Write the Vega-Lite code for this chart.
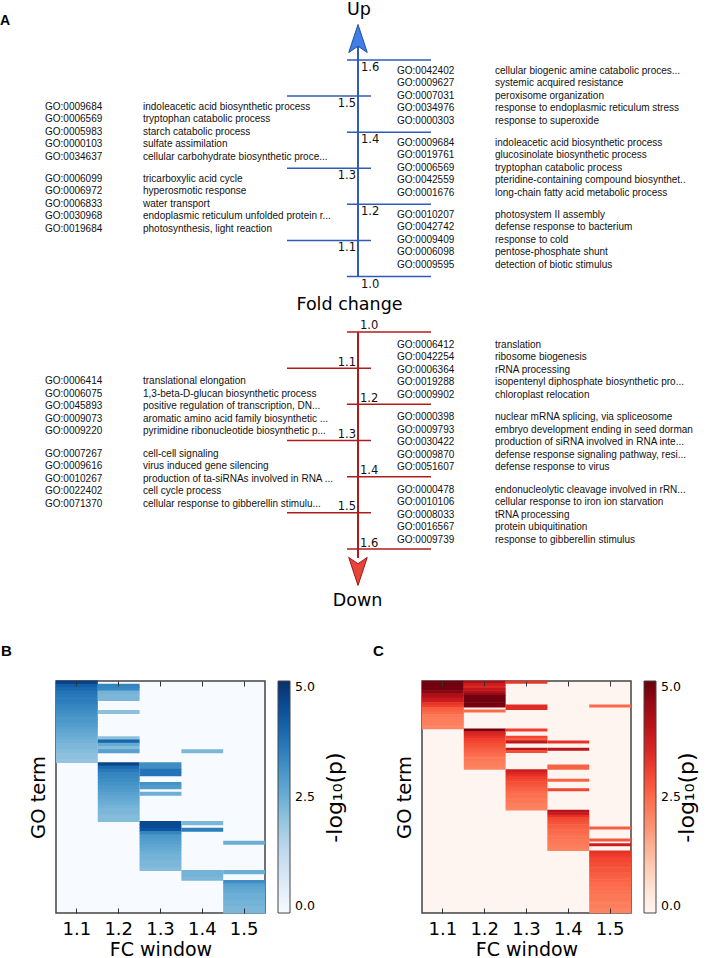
{
"$schema":"https://vega.github.io/schema/vega-lite/v6.json",
"padding":0,
"background":"white",
"spacing":0,
"columns":1,
"align":"none",
"config":{"view":{"stroke":null},"font":"DejaVu Sans"},
"datasets":{
"ticks":[{"fc":1.0,"side":"right"},{"fc":1.1,"side":"left"},{"fc":1.2,"side":"right"},{"fc":1.3,"side":"left"},{"fc":1.4,"side":"right"},{"fc":1.5,"side":"left"},{"fc":1.6,"side":"right"}],
"goUp":[
{"side":"right","lo":1.4,"hi":1.6,"rank":1,"go":"GO:0042402","name":"cellular biogenic amine catabolic proces..."},
{"side":"right","lo":1.4,"hi":1.6,"rank":2,"go":"GO:0009627","name":"systemic acquired resistance"},
{"side":"right","lo":1.4,"hi":1.6,"rank":3,"go":"GO:0007031","name":"peroxisome organization"},
{"side":"right","lo":1.4,"hi":1.6,"rank":4,"go":"GO:0034976","name":"response to endoplasmic reticulum stress"},
{"side":"right","lo":1.4,"hi":1.6,"rank":5,"go":"GO:0000303","name":"response to superoxide"},
{"side":"right","lo":1.2,"hi":1.4,"rank":1,"go":"GO:0009684","name":"indoleacetic acid biosynthetic process"},
{"side":"right","lo":1.2,"hi":1.4,"rank":2,"go":"GO:0019761","name":"glucosinolate biosynthetic process"},
{"side":"right","lo":1.2,"hi":1.4,"rank":3,"go":"GO:0006569","name":"tryptophan catabolic process"},
{"side":"right","lo":1.2,"hi":1.4,"rank":4,"go":"GO:0042559","name":"pteridine-containing compound biosynthet.."},
{"side":"right","lo":1.2,"hi":1.4,"rank":5,"go":"GO:0001676","name":"long-chain fatty acid metabolic process"},
{"side":"right","lo":1.0,"hi":1.2,"rank":1,"go":"GO:0010207","name":"photosystem II assembly"},
{"side":"right","lo":1.0,"hi":1.2,"rank":2,"go":"GO:0042742","name":"defense response to bacterium"},
{"side":"right","lo":1.0,"hi":1.2,"rank":3,"go":"GO:0009409","name":"response to cold"},
{"side":"right","lo":1.0,"hi":1.2,"rank":4,"go":"GO:0006098","name":"pentose-phosphate shunt"},
{"side":"right","lo":1.0,"hi":1.2,"rank":5,"go":"GO:0009595","name":"detection of biotic stimulus"},
{"side":"left","lo":1.3,"hi":1.5,"rank":1,"go":"GO:0009684","name":"indoleacetic acid biosynthetic process"},
{"side":"left","lo":1.3,"hi":1.5,"rank":2,"go":"GO:0006569","name":"tryptophan catabolic process"},
{"side":"left","lo":1.3,"hi":1.5,"rank":3,"go":"GO:0005983","name":"starch catabolic process"},
{"side":"left","lo":1.3,"hi":1.5,"rank":4,"go":"GO:0000103","name":"sulfate assimilation"},
{"side":"left","lo":1.3,"hi":1.5,"rank":5,"go":"GO:0034637","name":"cellular carbohydrate biosynthetic proce..."},
{"side":"left","lo":1.1,"hi":1.3,"rank":1,"go":"GO:0006099","name":"tricarboxylic acid cycle"},
{"side":"left","lo":1.1,"hi":1.3,"rank":2,"go":"GO:0006972","name":"hyperosmotic response"},
{"side":"left","lo":1.1,"hi":1.3,"rank":3,"go":"GO:0006833","name":"water transport"},
{"side":"left","lo":1.1,"hi":1.3,"rank":4,"go":"GO:0030968","name":"endoplasmic reticulum unfolded protein r..."},
{"side":"left","lo":1.1,"hi":1.3,"rank":5,"go":"GO:0019684","name":"photosynthesis, light reaction"}
],
"goDown":[
{"side":"right","lo":1.0,"hi":1.2,"rank":1,"go":"GO:0006412","name":"translation"},
{"side":"right","lo":1.0,"hi":1.2,"rank":2,"go":"GO:0042254","name":"ribosome biogenesis"},
{"side":"right","lo":1.0,"hi":1.2,"rank":3,"go":"GO:0006364","name":"rRNA processing"},
{"side":"right","lo":1.0,"hi":1.2,"rank":4,"go":"GO:0019288","name":"isopentenyl diphosphate biosynthetic pro..."},
{"side":"right","lo":1.0,"hi":1.2,"rank":5,"go":"GO:0009902","name":"chloroplast relocation"},
{"side":"right","lo":1.2,"hi":1.4,"rank":1,"go":"GO:0000398","name":"nuclear mRNA splicing, via spliceosome"},
{"side":"right","lo":1.2,"hi":1.4,"rank":2,"go":"GO:0009793","name":"embryo development ending in seed dorman"},
{"side":"right","lo":1.2,"hi":1.4,"rank":3,"go":"GO:0030422","name":"production of siRNA involved in RNA inte..."},
{"side":"right","lo":1.2,"hi":1.4,"rank":4,"go":"GO:0009870","name":"defense response signaling pathway, resi..."},
{"side":"right","lo":1.2,"hi":1.4,"rank":5,"go":"GO:0051607","name":"defense response to virus"},
{"side":"right","lo":1.4,"hi":1.6,"rank":1,"go":"GO:0000478","name":"endonucleolytic cleavage involved in rRN..."},
{"side":"right","lo":1.4,"hi":1.6,"rank":2,"go":"GO:0010106","name":"cellular response to iron ion starvation"},
{"side":"right","lo":1.4,"hi":1.6,"rank":3,"go":"GO:0008033","name":"tRNA processing"},
{"side":"right","lo":1.4,"hi":1.6,"rank":4,"go":"GO:0016567","name":"protein ubiquitination"},
{"side":"right","lo":1.4,"hi":1.6,"rank":5,"go":"GO:0009739","name":"response to gibberellin stimulus"},
{"side":"left","lo":1.1,"hi":1.3,"rank":1,"go":"GO:0006414","name":"translational elongation"},
{"side":"left","lo":1.1,"hi":1.3,"rank":2,"go":"GO:0006075","name":"1,3-beta-D-glucan biosynthetic process"},
{"side":"left","lo":1.1,"hi":1.3,"rank":3,"go":"GO:0045893","name":"positive regulation of transcription, DN..."},
{"side":"left","lo":1.1,"hi":1.3,"rank":4,"go":"GO:0009073","name":"aromatic amino acid family biosynthetic ..."},
{"side":"left","lo":1.1,"hi":1.3,"rank":5,"go":"GO:0009220","name":"pyrimidine ribonucleotide biosynthetic p..."},
{"side":"left","lo":1.3,"hi":1.5,"rank":1,"go":"GO:0007267","name":"cell-cell signaling"},
{"side":"left","lo":1.3,"hi":1.5,"rank":2,"go":"GO:0009616","name":"virus induced gene silencing"},
{"side":"left","lo":1.3,"hi":1.5,"rank":3,"go":"GO:0010267","name":"production of ta-siRNAs involved in RNA ..."},
{"side":"left","lo":1.3,"hi":1.5,"rank":4,"go":"GO:0022402","name":"cell cycle process"},
{"side":"left","lo":1.3,"hi":1.5,"rank":5,"go":"GO:0071370","name":"cellular response to gibberellin stimulu..."}
],
"hmUp":[
{"r":0,"w":"1.1","v":4.7},{"r":1,"w":"1.1","v":4.1},{"r":2,"w":"1.1","v":3.9},{"r":3,"w":"1.1","v":3.7},{"r":4,"w":"1.1","v":3.6},{"r":5,"w":"1.1","v":3.5},{"r":6,"w":"1.1","v":3.5},{"r":7,"w":"1.1","v":3.4},{"r":8,"w":"1.1","v":3.3},{"r":9,"w":"1.1","v":3.2},{"r":10,"w":"1.1","v":3.1},{"r":11,"w":"1.1","v":3.0},{"r":12,"w":"1.1","v":3.0},{"r":13,"w":"1.1","v":2.9},{"r":14,"w":"1.1","v":2.8},{"r":15,"w":"1.1","v":2.7},{"r":16,"w":"1.1","v":2.6},{"r":17,"w":"1.1","v":2.5},{"r":18,"w":"1.1","v":2.4},{"r":19,"w":"1.1","v":2.3},{"r":20,"w":"1.1","v":2.3},{"r":21,"w":"1.1","v":2.2},{"r":22,"w":"1.1","v":2.1},{"r":23,"w":"1.1","v":2.1},{"r":24,"w":"1.1","v":2.0},
{"r":1,"w":"1.2","v":3.4},{"r":2,"w":"1.2","v":3.3},{"r":3,"w":"1.2","v":2.4},{"r":4,"w":"1.2","v":2.3},{"r":5,"w":"1.2","v":2.3},{"r":9,"w":"1.2","v":2.1},{"r":17,"w":"1.2","v":2.1},{"r":18,"w":"1.2","v":4.0},{"r":19,"w":"1.2","v":2.6},{"r":20,"w":"1.2","v":2.2},{"r":21,"w":"1.2","v":2.8},
{"r":21,"w":"1.4","v":2.3},
{"r":25,"w":"1.2","v":4.6},{"r":26,"w":"1.2","v":3.9},{"r":27,"w":"1.2","v":3.6},{"r":28,"w":"1.2","v":3.4},{"r":29,"w":"1.2","v":3.3},{"r":30,"w":"1.2","v":3.2},{"r":31,"w":"1.2","v":3.1},{"r":32,"w":"1.2","v":3.0},{"r":33,"w":"1.2","v":2.9},{"r":34,"w":"1.2","v":2.8},{"r":35,"w":"1.2","v":2.7},{"r":36,"w":"1.2","v":2.6},{"r":37,"w":"1.2","v":2.5},{"r":38,"w":"1.2","v":2.4},{"r":39,"w":"1.2","v":2.3},{"r":40,"w":"1.2","v":2.3},{"r":41,"w":"1.2","v":2.2},{"r":42,"w":"1.2","v":2.2},
{"r":25,"w":"1.3","v":3.2},{"r":26,"w":"1.3","v":3.2},{"r":27,"w":"1.3","v":3.7},{"r":28,"w":"1.3","v":3.7},{"r":31,"w":"1.3","v":3.1},{"r":32,"w":"1.3","v":2.9},{"r":34,"w":"1.3","v":2.5},
{"r":43,"w":"1.3","v":4.5},{"r":44,"w":"1.3","v":4.5},{"r":45,"w":"1.3","v":4.3},{"r":46,"w":"1.3","v":3.4},{"r":47,"w":"1.3","v":3.0},{"r":48,"w":"1.3","v":2.9},{"r":49,"w":"1.3","v":2.8},{"r":50,"w":"1.3","v":2.7},{"r":51,"w":"1.3","v":2.6},{"r":52,"w":"1.3","v":2.5},{"r":53,"w":"1.3","v":2.4},{"r":54,"w":"1.3","v":2.4},{"r":55,"w":"1.3","v":2.3},{"r":56,"w":"1.3","v":2.3},{"r":57,"w":"1.3","v":2.2},
{"r":43,"w":"1.4","v":2.3},{"r":45,"w":"1.4","v":3.5},{"r":49,"w":"1.5","v":2.5},
{"r":58,"w":"1.4","v":2.4},{"r":59,"w":"1.4","v":2.4},{"r":60,"w":"1.4","v":2.3},
{"r":58,"w":"1.5","v":2.5},
{"r":61,"w":"1.5","v":3.2},{"r":62,"w":"1.5","v":2.8},{"r":63,"w":"1.5","v":2.7},{"r":64,"w":"1.5","v":2.6},{"r":65,"w":"1.5","v":2.5},{"r":66,"w":"1.5","v":2.5},{"r":67,"w":"1.5","v":2.4},{"r":68,"w":"1.5","v":2.4},{"r":69,"w":"1.5","v":2.3},{"r":70,"w":"1.5","v":2.3}
],
"hmDown":[
{"r":0,"w":"1.1","v":4.9},{"r":1,"w":"1.1","v":4.9},{"r":2,"w":"1.1","v":4.9},{"r":3,"w":"1.1","v":4.9},{"r":4,"w":"1.1","v":4.7},{"r":5,"w":"1.1","v":4.3},{"r":6,"w":"1.1","v":4.2},{"r":7,"w":"1.1","v":3.8},{"r":8,"w":"1.1","v":3.7},{"r":9,"w":"1.1","v":3.3},{"r":10,"w":"1.1","v":3.1},{"r":11,"w":"1.1","v":2.7},{"r":12,"w":"1.1","v":2.6},{"r":13,"w":"1.1","v":2.5},{"r":14,"w":"1.1","v":2.3},{"r":15,"w":"1.1","v":2.25},{"r":16,"w":"1.1","v":2.2},{"r":17,"w":"1.1","v":2.2},{"r":18,"w":"1.1","v":2.15},{"r":19,"w":"1.1","v":2.1},
{"r":0,"w":"1.2","v":4.2},{"r":1,"w":"1.2","v":3.7},{"r":2,"w":"1.2","v":3.5},{"r":3,"w":"1.2","v":3.9},{"r":4,"w":"1.2","v":4.1},{"r":5,"w":"1.2","v":4.5},{"r":6,"w":"1.2","v":4.9},{"r":7,"w":"1.2","v":4.9},{"r":8,"w":"1.2","v":4.9},{"r":9,"w":"1.2","v":4.9},{"r":10,"w":"1.2","v":4.8},{"r":12,"w":"1.2","v":2.5},
{"r":0,"w":"1.3","v":3.2},{"r":10,"w":"1.3","v":3.4},{"r":11,"w":"1.3","v":3.4},{"r":10,"w":"1.5","v":2.5},
{"r":20,"w":"1.2","v":4.9},{"r":21,"w":"1.2","v":3.6},{"r":22,"w":"1.2","v":3.5},{"r":23,"w":"1.2","v":3.3},{"r":24,"w":"1.2","v":3.1},{"r":25,"w":"1.2","v":3.0},{"r":26,"w":"1.2","v":2.9},{"r":27,"w":"1.2","v":2.8},{"r":28,"w":"1.2","v":2.7},{"r":29,"w":"1.2","v":2.6},{"r":30,"w":"1.2","v":2.5},{"r":31,"w":"1.2","v":2.4},{"r":32,"w":"1.2","v":2.3},{"r":33,"w":"1.2","v":2.3},{"r":34,"w":"1.2","v":2.2},{"r":35,"w":"1.2","v":2.2},{"r":36,"w":"1.2","v":2.1},
{"r":20,"w":"1.3","v":3.1},{"r":23,"w":"1.3","v":3.0},{"r":24,"w":"1.3","v":2.7},{"r":25,"w":"1.3","v":3.9},{"r":28,"w":"1.3","v":4.0},{"r":29,"w":"1.3","v":2.9},
{"r":25,"w":"1.4","v":3.3},{"r":28,"w":"1.4","v":4.0},{"r":35,"w":"1.4","v":2.6},{"r":36,"w":"1.4","v":2.6},
{"r":37,"w":"1.3","v":3.7},{"r":38,"w":"1.3","v":3.5},{"r":39,"w":"1.3","v":3.3},{"r":40,"w":"1.3","v":3.1},{"r":41,"w":"1.3","v":3.0},{"r":42,"w":"1.3","v":2.9},{"r":43,"w":"1.3","v":2.8},{"r":44,"w":"1.3","v":2.7},{"r":45,"w":"1.3","v":2.6},{"r":46,"w":"1.3","v":2.5},{"r":47,"w":"1.3","v":2.4},{"r":48,"w":"1.3","v":2.4},{"r":49,"w":"1.3","v":2.3},{"r":50,"w":"1.3","v":2.3},{"r":51,"w":"1.3","v":2.2},{"r":52,"w":"1.3","v":2.2},{"r":53,"w":"1.3","v":2.1},
{"r":41,"w":"1.4","v":2.6},{"r":45,"w":"1.4","v":3.0},
{"r":54,"w":"1.4","v":4.1},{"r":55,"w":"1.4","v":3.8},{"r":56,"w":"1.4","v":3.3},{"r":57,"w":"1.4","v":3.0},{"r":58,"w":"1.4","v":2.9},{"r":59,"w":"1.4","v":2.8},{"r":60,"w":"1.4","v":2.7},{"r":61,"w":"1.4","v":2.6},{"r":62,"w":"1.4","v":2.5},{"r":63,"w":"1.4","v":2.5},{"r":64,"w":"1.4","v":2.4},{"r":65,"w":"1.4","v":2.4},{"r":66,"w":"1.4","v":2.3},{"r":67,"w":"1.4","v":2.3},{"r":68,"w":"1.4","v":2.2},{"r":69,"w":"1.4","v":2.2},{"r":70,"w":"1.4","v":2.1},
{"r":61,"w":"1.5","v":2.7},{"r":66,"w":"1.5","v":2.8},{"r":68,"w":"1.5","v":3.7},
{"r":71,"w":"1.5","v":3.3},{"r":72,"w":"1.5","v":3.2},{"r":73,"w":"1.5","v":3.1},{"r":74,"w":"1.5","v":3.0},{"r":75,"w":"1.5","v":3.0},{"r":76,"w":"1.5","v":2.9},{"r":77,"w":"1.5","v":2.9},{"r":78,"w":"1.5","v":2.8},{"r":79,"w":"1.5","v":2.8},{"r":80,"w":"1.5","v":2.7},{"r":81,"w":"1.5","v":2.7},{"r":82,"w":"1.5","v":2.6},{"r":83,"w":"1.5","v":2.6},{"r":84,"w":"1.5","v":2.5},{"r":85,"w":"1.5","v":2.5},{"r":86,"w":"1.5","v":2.4},{"r":87,"w":"1.5","v":2.4},{"r":88,"w":"1.5","v":2.4},{"r":89,"w":"1.5","v":2.3},{"r":90,"w":"1.5","v":2.3},{"r":91,"w":"1.5","v":2.3},{"r":92,"w":"1.5","v":2.2},{"r":93,"w":"1.5","v":2.2},{"r":94,"w":"1.5","v":2.2},{"r":95,"w":"1.5","v":2.1},{"r":96,"w":"1.5","v":2.1}
]
},
"resolve":{"scale":{"x":"independent","y":"independent","color":"independent"}},
"concat":[
{
"width":709,"height":315,
"layer":[
{"data":{"values":[{}]},"mark":{"type":"rule","color":"#2e5cb8","strokeWidth":2,"xOffset":-39},
 "encoding":{"x":{"datum":"right","type":"nominal","scale":{"type":"point","domain":["left","right"],"range":[-11,341],"padding":0},"axis":null},
 "y":{"datum":1.0,"type":"quantitative","scale":{"domain":[0.8933,1.7663],"nice":false,"zero":false},"axis":null},"y2":{"datum":1.64}}},
{"data":{"name":"ticks"},"transform":[{"filter":"datum.side==='right'"}],"mark":{"type":"rule","color":"#2e5cb8","strokeWidth":1.5,"xOffset":-50,"x2Offset":34},
 "encoding":{"x":{"datum":"right","type":"nominal"},"x2":{"datum":"right"},"y":{"field":"fc","type":"quantitative"}}},
{"data":{"name":"ticks"},"transform":[{"filter":"datum.side==='left'"}],"mark":{"type":"rule","color":"#2e5cb8","strokeWidth":1.5,"xOffset":-110,"x2Offset":-26},
 "encoding":{"x":{"datum":"right","type":"nominal"},"x2":{"datum":"right"},"y":{"field":"fc","type":"quantitative"}}},
{"data":{"name":"ticks"},"transform":[{"filter":"datum.side==='right'"}],"mark":{"type":"text","align":"left","baseline":"top","dx":-36,"dy":2,"fontSize":11.5,"font":"DejaVu Sans","color":"#111"},
 "encoding":{"x":{"datum":"right","type":"nominal"},"y":{"field":"fc","type":"quantitative"},"text":{"field":"fc","type":"quantitative","format":".1f"}}},
{"data":{"name":"ticks"},"transform":[{"filter":"datum.side==='left'"}],"mark":{"type":"text","align":"right","baseline":"top","dx":-41,"dy":2,"fontSize":11.5,"font":"DejaVu Sans","color":"#111"},
 "encoding":{"x":{"datum":"right","type":"nominal"},"y":{"field":"fc","type":"quantitative"},"text":{"field":"fc","type":"quantitative","format":".1f"}}},
{"data":{"name":"goUp"},"transform":[{"aggregate":[{"op":"values","as":"vals"}],"groupby":["side","lo","hi"]},{"calculate":"pluck(datum.vals,'go')","as":"gos"},{"calculate":"pluck(datum.vals,'name')","as":"names"}],
 "mark":{"type":"text","align":"left","baseline":"top","dy":5.5,"lineHeight":12.5,"font":"Liberation Sans","fontSize":10,"color":"#111"},
 "encoding":{"x":{"field":"side","type":"nominal"},"y":{"field":"hi","type":"quantitative"},"text":{"field":"gos"}}},
{"data":{"name":"goUp"},"transform":[{"aggregate":[{"op":"values","as":"vals"}],"groupby":["side","lo","hi"]},{"calculate":"pluck(datum.vals,'go')","as":"gos"},{"calculate":"pluck(datum.vals,'name')","as":"names"}],
 "mark":{"type":"text","align":"left","baseline":"top","dy":5.5,"dx":98,"lineHeight":12.5,"font":"Liberation Sans","fontSize":10,"color":"#111"},
 "encoding":{"x":{"field":"side","type":"nominal"},"y":{"field":"hi","type":"quantitative"},"text":{"field":"names"}}},
{"data":{"values":[{}]},"mark":{"type":"point","shape":"M0,-1L0.66,1L0,0.55L-0.66,1Z","size":784,"filled":true,"fill":"#3f7fe6","stroke":"#1f4fa8","strokeWidth":1,"opacity":1,"xOffset":-39},
 "encoding":{"x":{"datum":"right","type":"nominal"},"y":{"datum":1.6596,"type":"quantitative"}}},
{"data":{"values":[{}]},"mark":{"type":"text","text":"Up","align":"center","baseline":"alphabetic","dx":-38,"fontSize":17.5,"font":"DejaVu Sans","color":"#000"},
 "encoding":{"x":{"datum":"right","type":"nominal"},"y":{"datum":1.7248,"type":"quantitative"}}},
{"data":{"values":[{}]},"mark":{"type":"text","text":"A","align":"left","baseline":"alphabetic","dx":-45,"fontSize":14,"fontWeight":"bold","font":"Liberation Sans","color":"#000"},
 "encoding":{"x":{"datum":"left","type":"nominal"},"y":{"datum":1.697,"type":"quantitative"}}},
{"data":{"values":[{}]},"mark":{"type":"text","text":"Fold change","align":"center","baseline":"alphabetic","dx":-47.5,"fontSize":17.5,"font":"DejaVu Sans","color":"#000"},
 "encoding":{"x":{"datum":"right","type":"nominal"},"y":{"datum":0.9072,"type":"quantitative"}}}
]
},
{
"width":709,"height":327,
"layer":[
{"data":{"values":[{}]},"mark":{"type":"rule","color":"#b01c1c","strokeWidth":2,"xOffset":-39},
 "encoding":{"x":{"datum":"right","type":"nominal","scale":{"type":"point","domain":["left","right"],"range":[-11,341],"padding":0},"axis":null},
 "y":{"datum":1.0,"type":"quantitative","scale":{"domain":[0.953,1.8571],"nice":false,"zero":false,"reverse":true},"axis":null},"y2":{"datum":1.625}}},
{"data":{"name":"ticks"},"transform":[{"filter":"datum.side==='right'"}],"mark":{"type":"rule","color":"#b01c1c","strokeWidth":1.5,"xOffset":-50,"x2Offset":34},
 "encoding":{"x":{"datum":"right","type":"nominal"},"x2":{"datum":"right"},"y":{"field":"fc","type":"quantitative"}}},
{"data":{"name":"ticks"},"transform":[{"filter":"datum.side==='left'"}],"mark":{"type":"rule","color":"#b01c1c","strokeWidth":1.5,"xOffset":-110,"x2Offset":-26},
 "encoding":{"x":{"datum":"right","type":"nominal"},"x2":{"datum":"right"},"y":{"field":"fc","type":"quantitative"}}},
{"data":{"name":"ticks"},"transform":[{"filter":"datum.side==='right'"}],"mark":{"type":"text","align":"left","baseline":"alphabetic","dx":-37,"dy":-2.5,"fontSize":11.5,"font":"DejaVu Sans","color":"#111"},
 "encoding":{"x":{"datum":"right","type":"nominal"},"y":{"field":"fc","type":"quantitative"},"text":{"field":"fc","type":"quantitative","format":".1f"}}},
{"data":{"name":"ticks"},"transform":[{"filter":"datum.side==='left'"}],"mark":{"type":"text","align":"right","baseline":"alphabetic","dx":-41,"dy":-2.5,"fontSize":11.5,"font":"DejaVu Sans","color":"#111"},
 "encoding":{"x":{"datum":"right","type":"nominal"},"y":{"field":"fc","type":"quantitative"},"text":{"field":"fc","type":"quantitative","format":".1f"}}},
{"data":{"name":"goDown"},"transform":[{"aggregate":[{"op":"values","as":"vals"}],"groupby":["side","lo","hi"]},{"calculate":"pluck(datum.vals,'go')","as":"gos"},{"calculate":"pluck(datum.vals,'name')","as":"names"}],
 "mark":{"type":"text","align":"left","baseline":"top","dy":8,"lineHeight":12.5,"font":"Liberation Sans","fontSize":10,"color":"#111"},
 "encoding":{"x":{"field":"side","type":"nominal"},"y":{"field":"lo","type":"quantitative"},"text":{"field":"gos"}}},
{"data":{"name":"goDown"},"transform":[{"aggregate":[{"op":"values","as":"vals"}],"groupby":["side","lo","hi"]},{"calculate":"pluck(datum.vals,'go')","as":"gos"},{"calculate":"pluck(datum.vals,'name')","as":"names"}],
 "mark":{"type":"text","align":"left","baseline":"top","dy":8,"dx":98,"lineHeight":12.5,"font":"Liberation Sans","fontSize":10,"color":"#111"},
 "encoding":{"x":{"field":"side","type":"nominal"},"y":{"field":"lo","type":"quantitative"},"text":{"field":"names"}}},
{"data":{"values":[{}]},"mark":{"type":"point","shape":"M0,1L0.66,-1L0,-0.55L-0.66,-1Z","size":784,"filled":true,"fill":"#e5453a","stroke":"#a31212","strokeWidth":1,"opacity":1,"xOffset":-39},
 "encoding":{"x":{"datum":"right","type":"nominal"},"y":{"datum":1.662,"type":"quantitative"}}},
{"data":{"values":[{}]},"mark":{"type":"text","text":"Down","align":"center","baseline":"alphabetic","dx":-39.5,"fontSize":17.5,"font":"DejaVu Sans","color":"#000"},
 "encoding":{"x":{"datum":"right","type":"nominal"},"y":{"datum":1.7575,"type":"quantitative"}}}
]
},
{
"hconcat":[
{
"width":209,"height":232,
"title":{"text":"B","anchor":"start","font":"Liberation Sans","fontSize":15,"fontWeight":"bold","color":"#000","dx":-27,"offset":22},
"data":{"name":"hmUp"},
"view":{"fill":"#f7fbff","stroke":"#444","strokeWidth":1.5},
"layer":[
{"mark":{"type":"rect","strokeWidth":0,"height":{"band":1.25}},
"encoding":{
"x":{"field":"w","type":"ordinal","title":"FC window","scale":{"paddingInner":0,"paddingOuter":0},"axis":{"labelAngle":0,"labelFont":"DejaVu Sans","labelFontSize":18,"labelColor":"#000","labelPadding":12,"domain":false,"tickSize":-5,"tickColor":"#333","tickWidth":1,"zindex":1,"titleFont":"DejaVu Sans","titleFontSize":19,"titleFontWeight":"normal","titleColor":"#000","titlePadding":2}},
"y":{"field":"r","type":"ordinal","title":"GO term","scale":{"paddingInner":0,"paddingOuter":0},"axis":{"labels":false,"ticks":false,"domain":false,"titleFont":"DejaVu Sans","titleFontSize":19.5,"titleFontWeight":"normal","titleColor":"#000","titlePadding":8}},
"color":{"field":"v","type":"quantitative","scale":{"domain":[0,0.625,1.25,1.875,2.5,3.125,3.75,4.375,5],"range":["#f7fbff","#deebf7","#c6dbef","#9ecae1","#6baed6","#4292c6","#2171b5","#08519c","#08306b"]},
 "legend":{"orient":"none","legendX":222,"legendY":0,"direction":"vertical","gradientLength":232,"gradientThickness":12,"gradientStrokeColor":"#444","gradientStrokeWidth":1,"values":[0,2.5,5],"format":".1f","labelFont":"DejaVu Sans","labelFontSize":12.5,"labelColor":"#000","labelOffset":5,"labelBaseline":"middle","labelOverlap":false,"title":null}}
}},
{"mark":{"type":"rect","fillOpacity":0,"strokeWidth":0},
"encoding":{
"x":{"field":"w","type":"ordinal","axis":{"orient":"top","labels":false,"domain":false,"title":null,"tickSize":-5,"tickColor":"#333","tickWidth":1,"zindex":1}},
"y":{"field":"r","type":"ordinal","axis":{"orient":"right","labels":false,"ticks":false,"domain":false,"title":"-log₁₀(p)","titleAngle":270,"titlePadding":81,"titleFont":"DejaVu Sans","titleFontSize":22,"titleFontWeight":"normal","titleColor":"#000"}}
}}
],
"resolve":{"axis":{"y":"independent","x":"independent"}}
},
{
"width":209,"height":232,
"title":{"text":"C","anchor":"start","font":"Liberation Sans","fontSize":15,"fontWeight":"bold","color":"#000","dx":-21,"offset":22},
"data":{"name":"hmDown"},
"view":{"fill":"#fff5f0","stroke":"#444","strokeWidth":1.5},
"layer":[
{"mark":{"type":"rect","strokeWidth":0,"height":{"band":1.25}},
"encoding":{
"x":{"field":"w","type":"ordinal","title":"FC window","scale":{"paddingInner":0,"paddingOuter":0},"axis":{"labelAngle":0,"labelFont":"DejaVu Sans","labelFontSize":18,"labelColor":"#000","labelPadding":12,"domain":false,"tickSize":-5,"tickColor":"#333","tickWidth":1,"zindex":1,"titleFont":"DejaVu Sans","titleFontSize":19,"titleFontWeight":"normal","titleColor":"#000","titlePadding":2}},
"y":{"field":"r","type":"ordinal","title":"GO term","scale":{"paddingInner":0,"paddingOuter":0},"axis":{"labels":false,"ticks":false,"domain":false,"titleFont":"DejaVu Sans","titleFontSize":19.5,"titleFontWeight":"normal","titleColor":"#000","titlePadding":8}},
"color":{"field":"v","type":"quantitative","scale":{"domain":[0,0.625,1.25,1.875,2.5,3.125,3.75,4.375,5],"range":["#fff5f0","#fee0d2","#fcbba1","#fc9272","#fb6a4a","#ef3b2c","#cb181d","#a50f15","#67000d"]},
 "legend":{"orient":"none","legendX":222,"legendY":0,"direction":"vertical","gradientLength":232,"gradientThickness":12,"gradientStrokeColor":"#444","gradientStrokeWidth":1,"values":[0,2.5,5],"format":".1f","labelFont":"DejaVu Sans","labelFontSize":12.5,"labelColor":"#000","labelOffset":5,"labelBaseline":"middle","labelOverlap":false,"title":null}}
}},
{"mark":{"type":"rect","fillOpacity":0,"strokeWidth":0},
"encoding":{
"x":{"field":"w","type":"ordinal","axis":{"orient":"top","labels":false,"domain":false,"title":null,"tickSize":-5,"tickColor":"#333","tickWidth":1,"zindex":1}},
"y":{"field":"r","type":"ordinal","axis":{"orient":"right","labels":false,"ticks":false,"domain":false,"title":"-log₁₀(p)","titleAngle":270,"titlePadding":67,"titleFont":"DejaVu Sans","titleFontSize":22,"titleFontWeight":"normal","titleColor":"#000"}}
}}
],
"resolve":{"axis":{"y":"independent","x":"independent"}}
}
],
"spacing":26,
"resolve":{"scale":{"x":"independent","y":"independent","color":"independent"},"legend":{"color":"independent"}}
}
]
}
